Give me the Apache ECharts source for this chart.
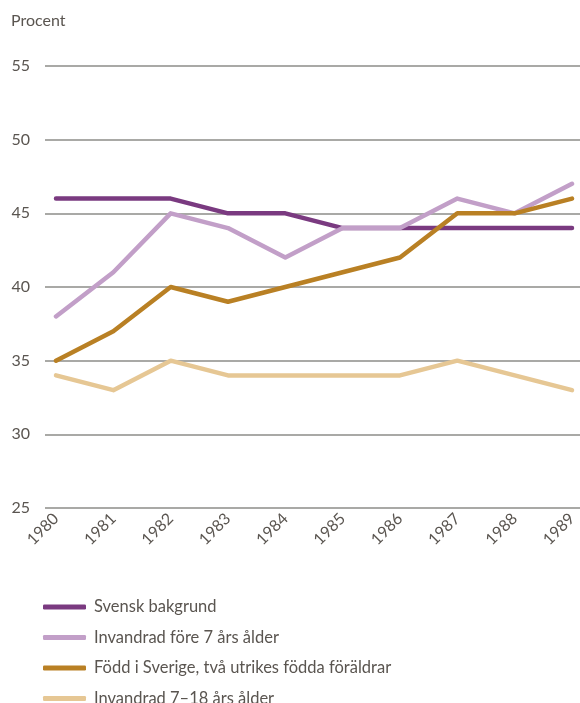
<!DOCTYPE html>
<html>
<head>
<meta charset="utf-8">
<script src="https://cdn.jsdelivr.net/npm/echarts@6/dist/echarts.min.js"></script>
<style>
html,body{margin:0;padding:0;background:#fff;}
#c{width:580px;height:703px;}
</style>
</head>
<body>
<div id="c"></div>
<script>
const years = ['1980','1981','1982','1983','1984','1985','1986','1987','1988','1989'];
const svenskBakgrund = [46,46,46,45,45,44,44,44,44,44];
const invandradFore7 = [38,41,45,44,42,44,44,46,45,47];
const foddISverige = [35,37,40,39,40,41,42,45,45,46];
const invandrad7till18 = [34,33,35,34,34,34,34,35,34,33];
const seriesNames = ['Svensk bakgrund','Invandrad före 7 års ålder','Född i Sverige, två utrikes födda föräldrar','Invandrad 7–18 års ålder'];
const colors = ['#7a3a80','#c29fc8','#b98024','#e6c794'];
const yMin = 25, yMax = 55, yStep = 5;

const font = 'Lato, "Open Sans", sans-serif';
const textColor = '#5a5550';
const chart = echarts.init(document.getElementById('c'), null, {renderer:'canvas'});
const dataSets = [svenskBakgrund, invandradFore7, foddISverige, invandrad7till18];
const legendTops = [598, 628.5, 659, 689.5];

chart.setOption({
  animation:false,
  color: colors,
  textStyle:{fontFamily:font},
  title:{text:'Procent', left:11, top:13, padding:0, textStyle:{fontFamily:font, fontSize:16, fontWeight:'normal', color:textColor}},
  grid:[
    {left:45, right:0, top:66, bottom:195},
    {left:56, right:8, top:66, bottom:195}
  ],
  xAxis:[
    {type:'category', gridIndex:0, data:years, show:false, boundaryGap:false},
    {type:'category', gridIndex:1, data:years, boundaryGap:false,
     axisLine:{show:false}, axisTick:{show:false},
     axisLabel:{rotate:45, margin:8, interval:0, fontFamily:font, fontSize:16, color:textColor}}
  ],
  yAxis:[
    {type:'value', gridIndex:0, min:yMin, max:yMax, interval:yStep,
     axisLine:{show:false}, axisTick:{show:false},
     axisLabel:{margin:15, fontFamily:font, fontSize:16, color:textColor},
     splitLine:{lineStyle:{color:'#8c8c88', width:1.5}}},
    {type:'value', gridIndex:1, min:yMin, max:yMax, interval:yStep, show:false, splitLine:{show:false}}
  ],
  legend: seriesNames.map((n,i)=>({
    orient:'vertical', left:43, top:legendTops[i], padding:0, itemWidth:43, itemHeight:5, itemGap:0,
    icon:'roundRect',
    textStyle:{fontFamily:font, fontSize:16.5, color:textColor, lineHeight:18, padding:[0,0,0,3]},
    data:[n]
  })),
  series: seriesNames.map((n,i)=>({
    name:n, type:'line', xAxisIndex:1, yAxisIndex:1, data:dataSets[i],
    symbol:'none', lineStyle:{width:4.5, cap:'round', join:'round', color:colors[i]},
    itemStyle:{color:colors[i]}
  }))
});
</script>
</body>
</html>
